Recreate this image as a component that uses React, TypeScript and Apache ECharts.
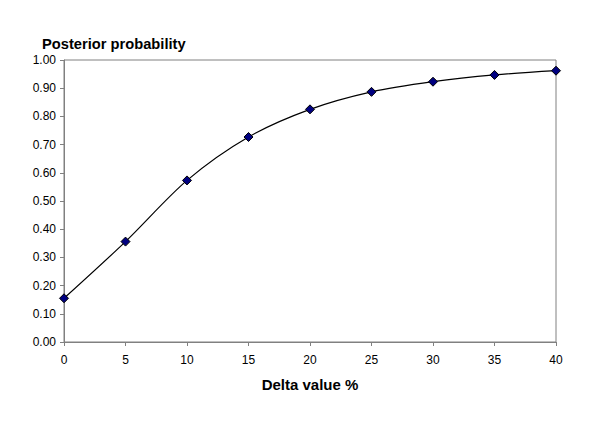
import React, { useEffect, useRef } from "react";
import * as echarts from "echarts";

const deltaValues = [0, 5, 10, 15, 20, 25, 30, 35, 40];
const posterior = [0.155, 0.356, 0.573, 0.727, 0.825, 0.887, 0.923, 0.947, 0.962];

export default function App() {
  const ref = useRef<HTMLDivElement>(null);
  useEffect(() => {
    if (!ref.current) return;
    const chart = echarts.init(ref.current, null, { renderer: "svg" });
    const axisColor = "#808080";
    chart.setOption({
      animation: false,
      backgroundColor: "#ffffff",
      textStyle: { fontFamily: "Liberation Sans, Arial, sans-serif" },
      title: {
        text: "Posterior probability",
        left: 37,
        top: 31,
        textStyle: { fontSize: 14.7, fontWeight: "bold", color: "#000" },
      },
      grid: {
        left: 64,
        right: 44,
        top: 60,
        bottom: 86,
        show: true,
        borderColor: axisColor,
        borderWidth: 1,
        containLabel: false,
      },
      xAxis: {
        type: "value",
        min: 0,
        max: 40,
        interval: 5,
        name: "Delta value %",
        nameLocation: "middle",
        nameGap: 35,
        nameTextStyle: { fontSize: 15, fontWeight: "bold", color: "#000" },
        axisLine: { show: true, lineStyle: { color: axisColor } },
        axisTick: { show: true, length: 4, lineStyle: { color: axisColor } },
        axisLabel: { fontSize: 12, color: "#000", margin: 12 },
        splitLine: { show: false },
      },
      yAxis: {
        type: "value",
        min: 0,
        max: 1,
        interval: 0.1,
        axisLine: { show: true, lineStyle: { color: axisColor } },
        axisTick: { show: true, length: 4, lineStyle: { color: axisColor } },
        axisLabel: {
          fontSize: 12,
          color: "#000",
          margin: 8,
          formatter: (v: number) => v.toFixed(2),
        },
        splitLine: { show: false },
      },
      series: [
        {
          type: "line",
          data: deltaValues.map((x, i) => [x, posterior[i]]),
          smooth: 0.3,
          symbol: "diamond",
          symbolSize: 9,
          lineStyle: { color: "#000", width: 1.2 },
          itemStyle: { color: "#000080", borderColor: "#000", borderWidth: 1 },
        },
      ],
    });
    return () => chart.dispose();
  }, []);
  return (
    <div
      ref={ref}
      style={{ position: "fixed", left: 0, top: 0, width: 600, height: 428 }}
    />
  );
}
